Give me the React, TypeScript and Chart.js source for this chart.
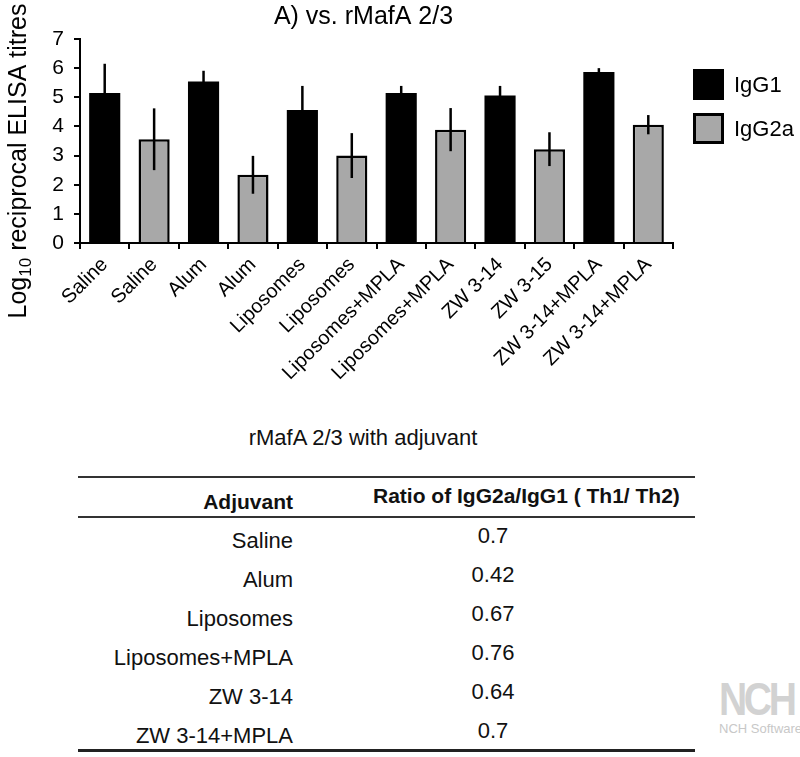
import React, { useEffect, useRef } from "react";
import { Chart, registerables } from "chart.js";

Chart.register(...registerables);

const FONT = "'Liberation Sans', Arial, Helvetica, sans-serif";

// ---- Chart data ----
const categories = [
  "Saline",
  "Saline",
  "Alum",
  "Alum",
  "Liposomes",
  "Liposomes",
  "Liposomes+MPLA",
  "Liposomes+MPLA",
  "ZW 3-14",
  "ZW 3-15",
  "ZW 3-14+MPLA",
  "ZW 3-14+MPLA",
];
const igg1Values = [5.15, null, 5.54, null, 4.56, null, 5.15, null, 5.06, null, 5.87, null];
const igg1Errors = [1.0, null, 0.37, null, 0.83, null, 0.24, null, 0.33, null, 0.13, null];
const igg2aValues = [null, 3.56, null, 2.34, null, 3.0, null, 3.89, null, 3.22, null, 4.06];
const igg2aErrors = [null, 1.06, null, 0.65, null, 0.77, null, 0.74, null, 0.58, null, 0.33];
const yTicks = [0, 1, 2, 3, 4, 5, 6, 7];

const chartTitle = "A) vs. rMafA 2/3";
const yTitleMain = "Log";
const yTitleSub = "10";
const yTitleRest = " reciprocal ELISA titres";
const seriesNames = ["IgG1", "IgG2a"];

// ---- Table data ----
const tableTitle = "rMafA 2/3 with adjuvant";
const tableHeaders = ["Adjuvant", "Ratio of IgG2a/IgG1 ( Th1/ Th2)"];
const adjuvants = ["Saline", "Alum", "Liposomes", "Liposomes+MPLA", "ZW 3-14", "ZW 3-14+MPLA"];
const ratios = ["0.7", "0.42", "0.67", "0.76", "0.64", "0.7"];

const GRAY = "#a8a8a8";

const errorBarsPlugin = {
  id: "errorBars",
  afterDatasetsDraw(chart: any) {
    const { ctx } = chart;
    const y = chart.scales.y;
    ctx.save();
    ctx.strokeStyle = "#000";
    ctx.lineWidth = 2.5;
    chart.data.datasets.forEach((ds: any, di: number) => {
      const meta = chart.getDatasetMeta(di);
      ds.data.forEach((v: number | null, i: number) => {
        const e = ds.errors[i];
        if (v == null || e == null) return;
        const bar = meta.data[i];
        if (!bar) return;
        ctx.beginPath();
        ctx.moveTo(bar.x, y.getPixelForValue(v - e));
        ctx.lineTo(bar.x, y.getPixelForValue(v + e));
        ctx.stroke();
      });
    });
    ctx.restore();
  },
};

const decorPlugin = {
  id: "decor",
  afterDraw(chart: any) {
    const { ctx, chartArea } = chart;
    ctx.save();
    ctx.fillStyle = "#000";

    // Title
    ctx.font = `25px ${FONT}`;
    ctx.textAlign = "center";
    ctx.textBaseline = "middle";
    ctx.fillText(chartTitle, (chartArea.left + chartArea.right) / 2 - 13, chartArea.top - 22);

    // Y axis title (with subscript)
    ctx.save();
    ctx.translate(chartArea.left - 54, chartArea.top + 122);
    ctx.rotate(-Math.PI / 2);
    ctx.textAlign = "left";
    ctx.textBaseline = "alphabetic";
    const big = `25px ${FONT}`;
    const small = `17px ${FONT}`;
    ctx.font = big;
    const w1 = ctx.measureText(yTitleMain).width;
    const w3 = ctx.measureText(yTitleRest).width;
    ctx.font = small;
    const w2 = ctx.measureText(yTitleSub).width;
    let x0 = -(w1 + w2 + w3) / 2;
    ctx.font = big;
    ctx.fillText(yTitleMain, x0, 0);
    x0 += w1;
    ctx.font = small;
    ctx.fillText(yTitleSub, x0, 5);
    x0 += w2;
    ctx.font = big;
    ctx.fillText(yTitleRest, x0, 0);
    ctx.restore();

    // Legend
    const lx = chartArea.right + 20;
    const ly = chartArea.top + 30;
    const box = 31;
    const gap = 44;
    chart.data.datasets.forEach((ds: any, i: number) => {
      const by = ly + i * gap;
      ctx.fillStyle = ds.backgroundColor;
      ctx.fillRect(lx, by, box, box);
      if (ds.borderWidth > 0) {
        ctx.strokeStyle = "#000";
        ctx.lineWidth = 3;
        ctx.strokeRect(lx + 1.5, by + 1.5, box - 3, box - 3);
      }
      ctx.fillStyle = "#000";
      ctx.font = `22px ${FONT}`;
      ctx.textAlign = "left";
      ctx.textBaseline = "middle";
      ctx.fillText(seriesNames[i], lx + box + 10, by + box / 2 + 1);
    });
    ctx.restore();
  },
};

export default function App() {
  const ref = useRef<HTMLCanvasElement>(null);

  useEffect(() => {
    if (!ref.current) return;
    const chart = new Chart(ref.current, {
      type: "bar",
      data: {
        labels: categories,
        datasets: [
          {
            label: seriesNames[0],
            data: igg1Values,
            errors: igg1Errors,
            backgroundColor: "#000",
            borderColor: "#000",
            borderWidth: 0,
            grouped: false,
            barPercentage: 0.63,
            categoryPercentage: 1,
          } as any,
          {
            label: seriesNames[1],
            data: igg2aValues,
            errors: igg2aErrors,
            backgroundColor: GRAY,
            borderColor: "#000",
            borderWidth: 2.5,
            grouped: false,
            barPercentage: 0.63,
            categoryPercentage: 1,
          } as any,
        ],
      },
      options: {
        responsive: false,
        animation: false,
        layout: { padding: { top: 39, right: 127, left: 0, bottom: 0 } },
        plugins: {
          legend: { display: false },
          title: { display: false },
          tooltip: { enabled: false },
        },
        scales: {
          x: {
            offset: true,
            grid: {
              display: true,
              drawOnChartArea: false,
              drawTicks: true,
              tickLength: 6,
              color: "#000",
              lineWidth: 2,
              offset: true,
            },
            border: { display: true, color: "#000", width: 2 },
            ticks: {
              color: "#000",
              font: { family: FONT, size: 20 },
              minRotation: 45,
              maxRotation: 45,
              autoSkip: false,
              padding: 4,
            },
            afterFit: (s: any) => {
              s.height = 177;
            },
          },
          y: {
            min: yTicks[0],
            max: yTicks[yTicks.length - 1],
            ticks: {
              stepSize: 1,
              color: "#000",
              font: { family: FONT, size: 21 },
              padding: 10,
            },
            grid: {
              drawOnChartArea: false,
              drawTicks: true,
              tickLength: 6,
              color: "#000",
              lineWidth: 2,
            },
            border: { display: true, color: "#000", width: 2 },
            afterFit: (s: any) => {
              s.width = 80;
            },
          },
        },
      } as any,
      plugins: [errorBarsPlugin, decorPlugin],
    });
    return () => chart.destroy();
  }, []);

  const rowTop = 523;
  const rowH = 39;
  const textColor = "#111";

  return (
    <div
      style={{
        position: "absolute",
        left: 0,
        top: 0,
        width: 800,
        height: 757,
        background: "#fff",
        fontFamily: FONT,
        color: textColor,
        overflow: "hidden",
      }}
    >
      <canvas ref={ref} width={800} height={420} style={{ position: "absolute", left: 0, top: 0, width: 800, height: 420 }} />

      {/* Table title */}
      <div
        style={{
          position: "absolute",
          left: 163,
          width: 400,
          top: 423,
          height: 30,
          lineHeight: "30px",
          fontSize: 22,
          textAlign: "center",
        }}
      >
        {tableTitle}
      </div>

      {/* Table */}
      <div style={{ position: "absolute", left: 78, top: 476, width: 617, height: 276 }}>
        <div style={{ position: "absolute", left: 0, top: 0, width: 617, height: 2, background: "#333" }} />
        <div style={{ position: "absolute", left: 0, top: 40, width: 617, height: 2, background: "#333" }} />
        <div style={{ position: "absolute", left: 0, top: 273, width: 617, height: 3, background: "#222" }} />

        <div
          style={{
            position: "absolute",
            left: 0,
            width: 215,
            top: 12,
            height: 28,
            lineHeight: "28px",
            fontSize: 21,
            fontWeight: "bold",
            textAlign: "right",
          }}
        >
          {tableHeaders[0]}
        </div>
        <div
          style={{
            position: "absolute",
            left: 295,
            width: 322,
            top: 6,
            height: 28,
            lineHeight: "28px",
            fontSize: 21,
            fontWeight: "bold",
            textAlign: "left",
            whiteSpace: "nowrap",
          }}
        >
          {tableHeaders[1]}
        </div>

        {adjuvants.map((a, i) => (
          <React.Fragment key={a}>
            <div
              style={{
                position: "absolute",
                left: 0,
                width: 215,
                top: rowTop - 476 + i * rowH - 14 + 18,
                height: 28,
                lineHeight: "28px",
                fontSize: 22,
                textAlign: "right",
                whiteSpace: "nowrap",
              }}
            >
              {a}
            </div>
            <div
              style={{
                position: "absolute",
                left: 315,
                width: 200,
                top: rowTop - 476 + i * rowH - 14 + 13,
                height: 28,
                lineHeight: "28px",
                fontSize: 22,
                textAlign: "center",
              }}
            >
              {ratios[i]}
            </div>
          </React.Fragment>
        ))}
      </div>

      {/* Watermark */}
      <div
        style={{
          position: "absolute",
          left: 719,
          top: 676,
          fontSize: 46,
          fontWeight: "bold",
          color: "#d2d2d2",
          letterSpacing: -4,
          lineHeight: "46px",
          transform: "scaleX(0.85)",
          transformOrigin: "left top",
        }}
      >
        NCH
      </div>
      <div
        style={{
          position: "absolute",
          left: 719,
          top: 721,
          fontSize: 13,
          color: "#c8c8c8",
          lineHeight: "16px",
          whiteSpace: "nowrap",
        }}
      >
        NCH Software
      </div>
    </div>
  );
}
